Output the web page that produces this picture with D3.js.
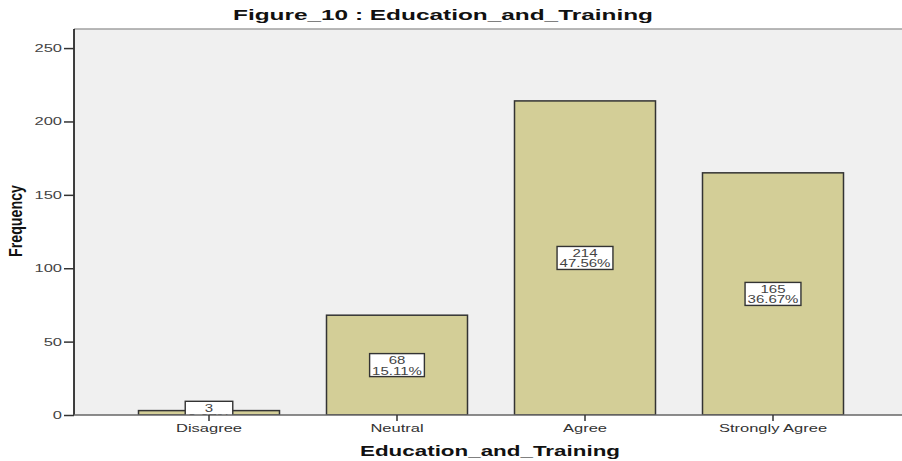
<!DOCTYPE html>
<html>
<head>
<meta charset="utf-8">
<script src="https://cdn.jsdelivr.net/npm/d3@7"></script>
<style>
  html, body { margin: 0; padding: 0; background: #ffffff; }
  svg { display: block; }
</style>
</head>
<body>
<svg id="chart" width="902" height="461"></svg>
<script>
// Response categories and their counts
const categories = ["Disagree", "Neutral", "Agree", "Strongly Agree"];
const frequencies = [3, 68, 214, 165];
const percents = ["0.67%", "15.11%", "47.56%", "36.67%"];
const yTicks = [0, 50, 100, 150, 200, 250];

const W = 902, H = 461;
const margin = { top: 29, right: 0, bottom: 46, left: 74 };
const innerW = W - margin.left - margin.right;
const innerH = H - margin.top - margin.bottom;
const FONT = "Liberation Sans, Arial, sans-serif";
const WIDE = 1.5; // horizontal glyph stretch used for all small labels

// widen a text run by a factor, keeping its anchor
function widen(sel, factor) {
  sel.each(function () {
    const len = this.getComputedTextLength();
    d3.select(this)
      .attr("textLength", len * factor)
      .attr("lengthAdjust", "spacingAndGlyphs");
  });
}

const svg = d3.select("#chart");

const x = d3.scaleBand()
  .domain(categories)
  .range([41, 793])
  .paddingInner(0.25)
  .paddingOuter(0.125);

const y = d3.scaleLinear()
  .domain([0, 263])
  .range([innerH, 0]);

const g = svg.append("g").attr("transform", `translate(${margin.left},${margin.top})`);

// plot background
g.append("rect")
  .attr("width", innerW).attr("height", innerH)
  .attr("fill", "#f0f0f0");

// top frame line
g.append("line")
  .attr("x1", 0).attr("x2", innerW)
  .attr("y1", 0).attr("y2", 0)
  .attr("stroke", "#a0a0a0").attr("stroke-width", 1.5);

// clip so value boxes do not spill under the axis
svg.append("defs").append("clipPath").attr("id", "plotClip")
  .append("rect").attr("width", innerW).attr("height", innerH);

const data = categories.map((c, i) => ({ c, v: frequencies[i], p: percents[i] }));

const bars = g.append("g").attr("clip-path", "url(#plotClip)");

bars.selectAll("rect.bar")
  .data(data)
  .join("rect")
  .attr("class", "bar")
  .attr("x", d => x(d.c))
  .attr("y", d => y(d.v))
  .attr("width", x.bandwidth())
  .attr("height", d => innerH - y(d.v))
  .attr("fill", "#d3ce97")
  .attr("stroke", "#333333")
  .attr("stroke-width", 1.5);

// value labels: count and percentage in a white box at the bar's middle
const lab = bars.selectAll("g.lab")
  .data(data)
  .join("g")
  .attr("class", "lab")
  .attr("transform", d => `translate(${x(d.c) + x.bandwidth() / 2},${y(d.v / 2)})`);

const box = lab.append("rect")
  .attr("y", -11.5)
  .attr("height", 23)
  .attr("fill", "#ffffff")
  .attr("stroke", "#333333")
  .attr("stroke-width", 1.4);

const countText = lab.append("text")
  .attr("y", -1)
  .attr("text-anchor", "middle")
  .attr("font-family", FONT)
  .attr("font-size", 10)
  .attr("fill", "#444")
  .text(d => d.v);

const pctText = lab.append("text")
  .attr("y", 9.5)
  .attr("text-anchor", "middle")
  .attr("font-family", FONT)
  .attr("font-size", 10)
  .attr("fill", "#444")
  .text(d => d.p);

widen(countText, WIDE);
widen(pctText, WIDE);
pctText.each(function () {
  const w = +this.getAttribute("textLength") + 5;
  d3.select(this.parentNode).select("rect").attr("x", -w / 2).attr("width", w);
});

// y axis
const yAxis = g.append("g")
  .call(d3.axisLeft(y).tickValues(yTicks).tickSize(10).tickPadding(2));
yAxis.select(".domain").attr("stroke", "#000").attr("stroke-width", 1.5).attr("d", `M0,0V${innerH}`);
yAxis.selectAll(".tick line").attr("stroke", "#333").attr("stroke-width", 1.5);
yAxis.selectAll(".tick text")
  .attr("font-family", FONT)
  .attr("font-size", 11)
  .attr("fill", "#444")
  .call(widen, WIDE);

// x axis
const xAxis = g.append("g")
  .attr("transform", `translate(0,${innerH})`)
  .call(d3.axisBottom(x).tickSize(6).tickPadding(3));
xAxis.select(".domain").attr("stroke", "#666").attr("stroke-width", 1.5).attr("d", `M0,0H${innerW}`);
xAxis.selectAll(".tick line").attr("stroke", "#333").attr("stroke-width", 1.5);
xAxis.selectAll(".tick text")
  .attr("font-family", FONT)
  .attr("font-size", 11)
  .attr("fill", "#333")
  .call(widen, WIDE);

// titles
svg.append("text")
  .attr("x", 443).attr("y", 20)
  .attr("text-anchor", "middle")
  .attr("font-family", FONT)
  .attr("font-weight", "bold")
  .attr("font-size", 14)
  .attr("fill", "#111")
  .attr("textLength", 420)
  .attr("lengthAdjust", "spacingAndGlyphs")
  .text("Figure_10 : Education_and_Training");

svg.append("text")
  .attr("x", 490).attr("y", 456)
  .attr("text-anchor", "middle")
  .attr("font-family", FONT)
  .attr("font-weight", "bold")
  .attr("font-size", 14)
  .attr("fill", "#111")
  .attr("textLength", 260)
  .attr("lengthAdjust", "spacingAndGlyphs")
  .text("Education_and_Training");

svg.append("text")
  .attr("transform", "translate(22,221) rotate(-90) scale(1,1.4)")
  .attr("text-anchor", "middle")
  .attr("font-family", FONT)
  .attr("font-weight", "bold")
  .attr("font-size", 13)
  .attr("fill", "#111")
  .attr("textLength", 72)
  .attr("lengthAdjust", "spacingAndGlyphs")
  .text("Frequency");
</script>
</body>
</html>
